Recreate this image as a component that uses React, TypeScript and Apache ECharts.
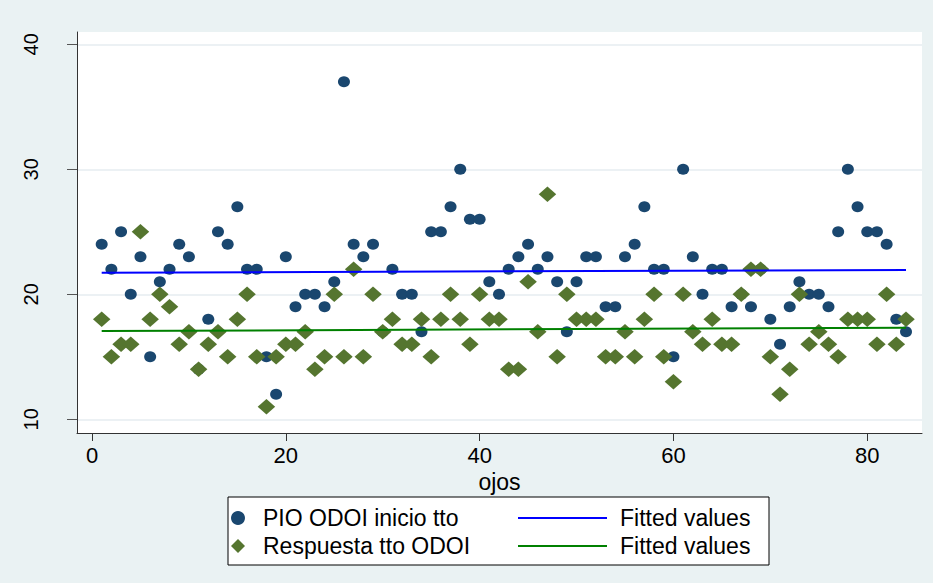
import React, { useEffect, useRef } from "react";
import * as echarts from "echarts";

// x positions (eye index)
const ojos = [
  1, 2, 3, 4, 5, 6, 7, 8, 9, 10, 11, 12, 13, 14, 15, 16, 17, 18, 19, 20, 21,
  22, 23, 24, 25, 26, 27, 28, 29, 30, 31, 32, 33, 34, 35, 36, 37, 38, 39, 40,
  41, 42, 43, 44, 45, 46, 47, 48, 49, 50, 51, 52, 53, 54, 55, 56, 57, 58, 59,
  60, 61, 62, 63, 64, 65, 66, 67, 68, 69, 70, 71, 72, 73, 74, 75, 76, 77, 78,
  79, 80, 81, 82, 83, 84,
];

// PIO ODOI inicio tto
const pioInicio = [
  24, 22, 25, 20, 23, 15, 21, 22, 24, 23, 14, 18, 25, 24, 27, 22, 22, 15, 12,
  23, 19, 20, 20, 19, 21, 37, 24, 23, 24, 17, 22, 20, 20, 17, 25, 25, 27, 30,
  26, 26, 21, 20, 22, 23, 24, 22, 23, 21, 17, 21, 23, 23, 19, 19, 23, 24, 27,
  22, 22, 15, 30, 23, 20, 22, 22, 19, 20, 19, 22, 18, 16, 19, 21, 20, 20, 19,
  25, 30, 27, 25, 25, 24, 18, 17,
];

// Respuesta tto ODOI
const respuesta = [
  18, 15, 16, 16, 25, 18, 20, 19, 16, 17, 14, 16, 17, 15, 18, 20, 15, 11, 15,
  16, 16, 17, 14, 15, 20, 15, 22, 15, 20, 17, 18, 16, 16, 18, 15, 18, 20, 18,
  16, 20, 18, 18, 14, 14, 21, 17, 28, 15, 20, 18, 18, 18, 15, 15, 17, 15, 18,
  20, 15, 13, 20, 17, 16, 18, 16, 16, 20, 22, 22, 15, 12, 14, 20, 16, 17, 16,
  15, 18, 18, 18, 16, 20, 16, 18,
];

// Fitted values (end points)
const fitX = [1, 84];
const fitPio = [21.73, 21.94];
const fitResp = [17.06, 17.33];

const xTicks = [0, 20, 40, 60, 80];
const yTicks = [10, 20, 30, 40];

const FONT = "'Liberation Sans', Arial, Helvetica, sans-serif";

export default function App() {
  const ref = useRef<HTMLDivElement>(null);

  useEffect(() => {
    if (!ref.current) return;
    const chart = echarts.init(ref.current, undefined, { renderer: "svg" });
    const option: any = {
      animation: false,
      backgroundColor: "#eaf2f3",
      textStyle: { fontFamily: FONT },
      grid: {
        left: 77,
        right: 11,
        top: 32,
        bottom: 150,
        show: true,
        backgroundColor: "#ffffff",
        borderWidth: 0,
      },
      xAxis: {
        type: "value",
        min: -1.548,
        max: 85.65,
        name: "ojos",
        nameLocation: "middle",
        nameGap: 32,
        nameTextStyle: { fontSize: 23, color: "#000", fontFamily: FONT },
        axisLine: { show: true, onZero: false, lineStyle: { color: "#333", width: 1 } },
        axisTick: { show: true, length: 8, customValues: xTicks, lineStyle: { color: "#333" } },
        axisLabel: { customValues: xTicks, fontSize: 22, color: "#000", margin: 11, fontFamily: FONT },
        splitLine: { show: false },
      },
      yAxis: {
        type: "value",
        min: 8.904,
        max: 40.98,
        axisLine: { show: true, onZero: false, lineStyle: { color: "#333", width: 1 } },
        axisTick: { show: true, length: 10, customValues: yTicks, lineStyle: { color: "#555" } },
        axisLabel: { customValues: yTicks, rotate: 90, fontSize: 20, color: "#000", margin: 36, fontFamily: FONT },
        splitLine: { show: true, lineStyle: { color: "#e6edf0", width: 1.5 } },
      },
      graphic: [
        {
          type: "rect",
          z: 0,
          shape: { x: 228, y: 497, width: 541, height: 68 },
          style: { fill: "#ffffff", stroke: "#000000", lineWidth: 1 },
        },
      ],
      legend: [
        {
          data: [
            { name: "PIO ODOI inicio tto", icon: "circle" },
            { name: "Respuesta tto ODOI", icon: "diamond" },
          ],
          orient: "vertical",
          left: 231,
          top: 506,
          padding: 0,
          itemWidth: 14,
          itemHeight: 14,
          itemGap: 4,
          textStyle: { fontSize: 23, lineHeight: 24, color: "#000", fontFamily: FONT, padding: [0, 0, 0, 13] },
        },
        {
          data: [
            { name: "Fitted values (PIO)", icon: "rect" },
            { name: "Fitted values (Respuesta)", icon: "rect" },
          ],
          orient: "vertical",
          left: 518,
          top: 506,
          padding: 0,
          itemWidth: 89,
          itemHeight: 2,
          itemGap: 4,
          formatter: "Fitted values",
          textStyle: { fontSize: 23, lineHeight: 24, color: "#000", fontFamily: FONT, padding: [0, 0, 0, 8] },
        },
      ],
      series: [
        {
          name: "PIO ODOI inicio tto",
          type: "scatter",
          symbol: "circle",
          symbolSize: [12, 11],
          itemStyle: { color: "#1a476f", opacity: 1 },
          data: ojos.map((x, i) => [x, pioInicio[i]]),
        },
        {
          name: "Respuesta tto ODOI",
          type: "scatter",
          symbol: "diamond",
          symbolSize: [17.5, 15.5],
          itemStyle: { color: "#55752f", opacity: 1 },
          data: ojos.map((x, i) => [x, respuesta[i]]),
        },
        {
          name: "Fitted values (PIO)",
          type: "line",
          symbol: "none",
          color: "#0000ff",
          lineStyle: { color: "#0000ff", width: 2 },
          data: fitX.map((x, i) => [x, fitPio[i]]),
        },
        {
          name: "Fitted values (Respuesta)",
          type: "line",
          symbol: "none",
          color: "#008000",
          lineStyle: { color: "#008000", width: 2 },
          data: fitX.map((x, i) => [x, fitResp[i]]),
        },
      ],
    };
    chart.setOption(option);
    return () => chart.dispose();
  }, []);

  return (
    <div
      ref={ref}
      style={{ position: "fixed", left: 0, top: 0, width: 933, height: 583 }}
    />
  );
}
